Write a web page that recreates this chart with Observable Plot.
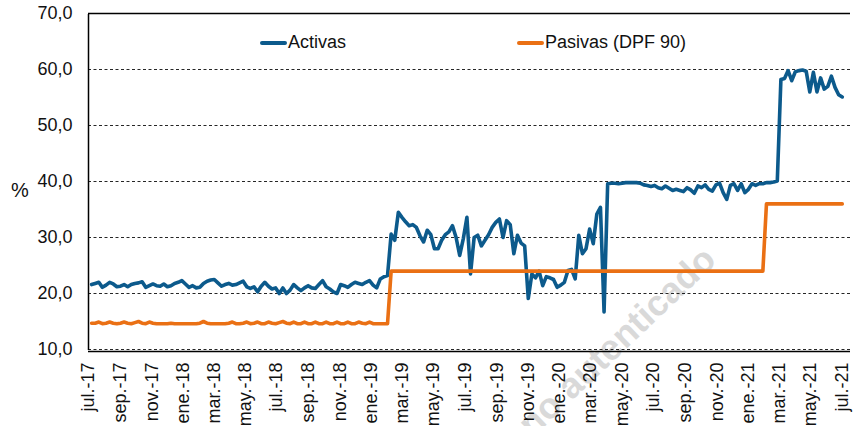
<!DOCTYPE html>
<html><head><meta charset="utf-8">
<script src="https://cdn.jsdelivr.net/npm/d3@7"></script>
<script src="https://cdn.jsdelivr.net/npm/@observablehq/plot@0.6"></script>
<style>
body{margin:0;background:#fff;font-family:"Liberation Sans",Arial,sans-serif;}
#wrap{position:relative;width:853px;height:426px;overflow:hidden;background:#fff;}
#wm{position:absolute;left:0;top:0;}
#chart{position:absolute;left:0;top:0;}
.leg{position:absolute;font-size:18px;color:#111;line-height:20px;white-space:nowrap;}
.sw{position:absolute;height:4px;border-radius:2px;}
#pct{position:absolute;left:11px;top:179px;font-size:20px;color:#111;}
</style></head><body>
<div id="wrap">
<svg id="wm" width="853" height="426"><text x="718" y="262" text-anchor="end" transform="rotate(-43.5 718 262)" font-family="Liberation Sans, Arial, sans-serif" font-weight="bold" font-size="36" fill="#d9d9d9">Documento no autenticado</text></svg>
<div id="chart"></div>
<div id="pct">%</div>
<div class="sw" style="left:260px;top:41px;width:27px;background:#0c5a8c"></div>
<div class="leg" style="left:288px;top:32px;">Activas</div>
<div class="sw" style="left:517px;top:41px;width:27px;background:#ea7014"></div>
<div class="leg" style="left:545px;top:32px;">Pasivas (DPF 90)</div>
</div>
<script>
const seriesNames = ["Activas", "Pasivas (DPF 90)"];
const seriesColors = ["#0c5a8c", "#ea7014"];
const firstWeek = "2017-07-07";

const activas = [
21.6,21.8,22.0,21.1,21.5,22.0,21.7,21.2,21.3,21.6,
21.2,21.6,21.8,21.9,22.1,21.1,21.4,21.7,21.4,21.3,
21.7,21.2,21.4,21.8,22.0,22.3,21.7,21.1,21.4,21.0,
21.1,21.8,22.2,22.4,22.5,21.9,21.3,21.6,21.8,21.5,
21.6,21.9,22.2,21.2,20.9,21.2,20.3,21.3,22.0,21.3,
20.8,21.0,20.0,21.0,20.0,20.6,21.6,21.0,20.5,21.0,
21.4,21.0,20.9,21.6,22.3,21.2,20.8,20.3,20.0,21.6,
21.4,21.1,21.6,22.0,21.8,21.6,22.0,22.3,21.5,21.0,
22.6,23.0,23.2,30.6,29.5,34.5,33.6,32.8,32.1,32.3,
31.8,30.3,29.2,31.3,30.5,28.0,28.0,29.5,30.5,31.0,
32.1,30.0,26.8,29.8,33.6,23.5,30.0,30.4,28.5,29.5,
30.5,31.8,32.7,33.3,30.0,33.0,32.3,27.1,30.4,29.0,
28.5,19.1,23.5,22.8,24.0,21.4,23.0,22.8,22.5,21.1,
21.5,22.0,24.1,24.3,22.6,30.4,27.1,28.0,31.5,28.9,
34.2,35.4,16.7,39.6,39.7,39.7,39.6,39.7,39.8,39.8,
39.8,39.8,39.7,39.4,39.3,39.1,39.3,38.9,38.7,39.2,
38.8,38.4,38.6,38.4,38.2,38.9,38.5,37.9,39.2,38.9,
39.4,38.6,38.3,39.4,39.7,38.0,36.8,39.3,39.6,38.4,
39.6,38.0,38.6,39.6,39.3,39.6,39.6,39.8,39.8,39.9,
40.1,58.2,58.4,59.8,58.0,59.6,59.8,59.9,59.7,56.0,
59.5,56.0,58.5,56.5,57.0,58.8,56.8,55.5,55.1
];

const pasivas = [
14.7,14.7,14.9,14.6,14.7,14.9,14.7,14.6,14.7,14.9,
14.7,14.6,14.8,15.0,14.7,14.6,14.9,14.7,14.6,14.6,
14.6,14.6,14.7,14.6,14.6,14.6,14.6,14.6,14.6,14.6,
14.7,15.0,14.7,14.6,14.6,14.6,14.6,14.6,14.7,14.9,
14.6,14.6,14.7,14.9,14.6,14.7,14.9,14.6,14.6,14.9,
14.7,14.6,14.8,15.0,14.7,14.6,14.9,14.6,14.6,14.9,
14.6,14.6,14.9,14.6,14.6,14.9,14.6,14.6,14.9,14.6,
14.6,14.9,14.6,14.6,14.9,14.7,14.6,14.9,14.6,14.6,
14.6,14.6,14.6,
24.0,24.0,24.0,24.0,24.0,24.0,24.0,24.0,24.0,24.0,
24.0,24.0,24.0,24.0,24.0,24.0,24.0,24.0,24.0,24.0,
24.0,24.0,24.0,24.0,24.0,24.0,24.0,24.0,24.0,24.0,
24.0,24.0,24.0,24.0,24.0,24.0,24.0,24.0,24.0,24.0,
24.0,24.0,24.0,24.0,24.0,24.0,24.0,24.0,24.0,24.0,
24.0,24.0,24.0,24.0,24.0,24.0,24.0,24.0,24.0,24.0,
24.0,24.0,24.0,24.0,24.0,24.0,24.0,24.0,24.0,24.0,
24.0,24.0,24.0,24.0,24.0,24.0,24.0,24.0,24.0,24.0,
24.0,24.0,24.0,24.0,24.0,24.0,24.0,24.0,24.0,24.0,
24.0,24.0,24.0,24.0,24.0,24.0,24.0,24.0,24.0,24.0,
24.0,24.0,24.0,24.0,
36.0,36.0,36.0,36.0,36.0,36.0,36.0,36.0,36.0,36.0,
36.0,36.0,36.0,36.0,36.0,36.0,36.0,36.0,36.0,36.0,
36.0,36.0
];

const yTicks = [10, 20, 30, 40, 50, 60, 70];
const gridLines = [10, 20, 30, 40, 50, 60];
const xTickDates = ["2017-07-01","2017-09-01","2017-11-01","2018-01-01","2018-03-01","2018-05-01","2018-07-01","2018-09-01","2018-11-01","2019-01-01","2019-03-01","2019-05-01","2019-07-01","2019-09-01","2019-11-01","2020-01-01","2020-03-01","2020-05-01","2020-07-01","2020-09-01","2020-11-01","2021-01-01","2021-03-01","2021-05-01","2021-07-01"];
const xTickLabels = ["jul.-17","sep.-17","nov.-17","ene.-18","mar.-18","may.-18","jul.-18","sep.-18","nov.-18","ene.-19","mar.-19","may.-19","jul.-19","sep.-19","nov.-19","ene.-20","mar.-20","may.-20","jul.-20","sep.-20","nov.-20","ene.-21","mar.-21","may.-21","jul.-21"];
const xDomain = ["2017-07-01", "2021-07-18"];

const start = new Date(firstWeek);
const rows = [];
activas.forEach((v, i) => rows.push({date: d3.utcDay.offset(start, 7 * i), v, s: seriesNames[0]}));
pasivas.forEach((v, i) => rows.push({date: d3.utcDay.offset(start, 7 * i), v, s: seriesNames[1]}));
const tickDates = xTickDates.map(d => new Date(d));
const labelOf = new Map(tickDates.map((d, i) => [+d, xTickLabels[i]]));

const chart = Plot.plot({
  width: 853, height: 426,
  marginLeft: 88, marginRight: 3, marginTop: 13, marginBottom: 77,
  style: {fontFamily: "Liberation Sans, Arial, sans-serif", fontSize: "18px", color: "#111", background: "transparent", overflow: "visible"},
  x: {type: "utc", domain: xDomain.map(d => new Date(d))},
  y: {domain: [10, 70]},
  color: {domain: seriesNames, range: seriesColors},
  marks: [
    Plot.ruleY(gridLines, {stroke: "#000", strokeWidth: 1, strokeDasharray: "3,2.5", strokeOpacity: 0.85}),
    Plot.ruleY([70], {stroke: "#000", strokeWidth: 1.5}),
    Plot.ruleY([10], {stroke: "#000", strokeWidth: 1.5, dy: 2}),
    Plot.ruleX([new Date(xDomain[0])], {stroke: "#000", strokeWidth: 1.5, y1: 10, y2: 70, dy: 1}),
    Plot.lineY(rows.filter(d => d.s === seriesNames[0]), {x: "date", y: "v", stroke: "s", strokeWidth: 3.6, strokeLinejoin: "round"}),
    Plot.lineY(rows.filter(d => d.s === seriesNames[1]), {x: "date", y: "v", stroke: "s", strokeWidth: 3.6, strokeLinejoin: "round"}),
    Plot.axisY({ticks: yTicks, tickSize: 0, tickPadding: 16, tickFormat: d => d.toFixed(1).replace(".", ","), label: null, fill: "#111"}),
    Plot.axisX({ticks: tickDates, tickSize: 0, tickPadding: 13, tickRotate: -90, tickFormat: d => labelOf.get(+d), label: null, fill: "#111"})
  ]
});
document.getElementById("chart").appendChild(chart);
</script>
</body></html>
